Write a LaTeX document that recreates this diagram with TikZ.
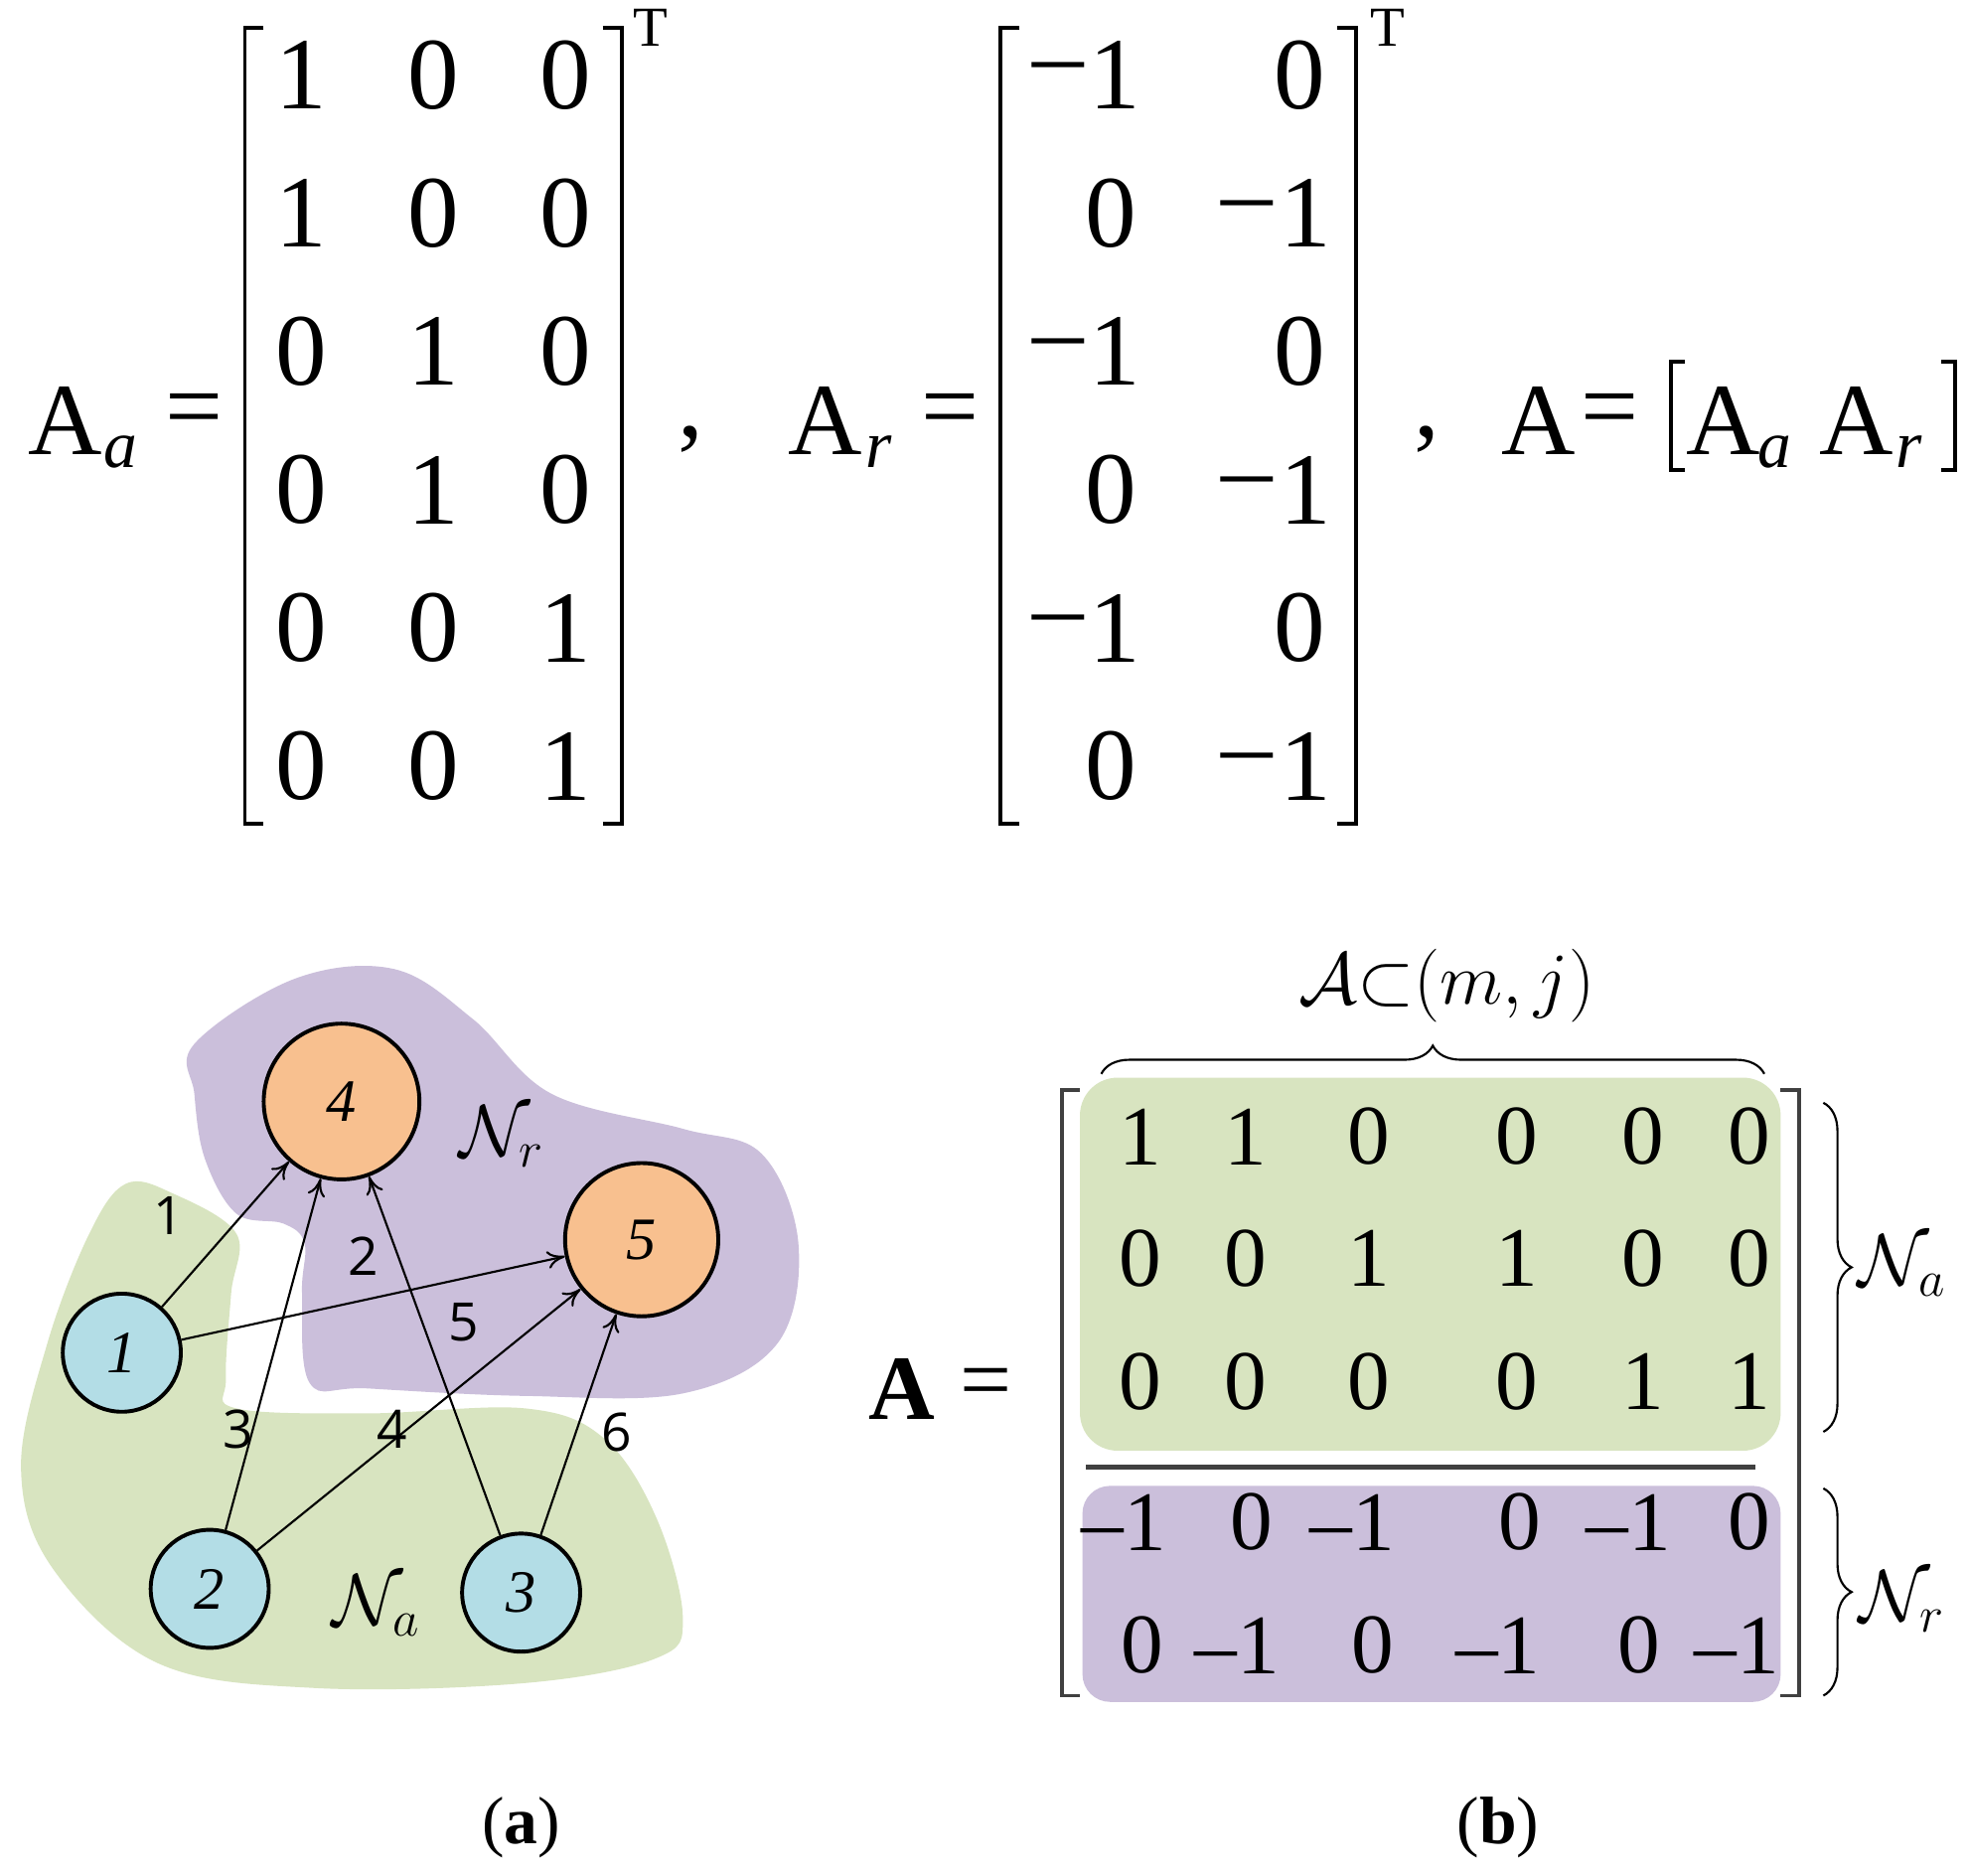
\documentclass[tikz,border=0pt]{standalone}
\usepackage{fontspec}
\setmainfont{Liberation Serif}
\newfontfamily\lblsans{Open Sans}
\usetikzlibrary{decorations.pathreplacing,arrows.meta}
\newcommand\fsz[1]{\fontsize{#1}{#1}\selectfont}
\definecolor{cOr}{HTML}{F8C08F}
\definecolor{cBl}{HTML}{B3DDE6}
\definecolor{cPu}{HTML}{CBBFDB}
\definecolor{cGr}{HTML}{D8E4C0}
\begin{document}
\begin{tikzpicture}[x=0.0125cm,y=-0.0125cm,
  big/.style={font=\fsz{29pt}, inner sep=0},
  mid/.style={font=\fsz{24pt}, inner sep=0},
  sub/.style={font=\fsz{19pt}\itshape, inner sep=0},
  brk/.style={line width=1.1pt},
  gn/.style={circle, draw, line width=1.1pt, font=\fsz{17pt}\itshape, inner sep=0},
  el/.style={font=\lblsans\fsz{15pt}, inner sep=0},
  ed/.style={line width=0.6pt, -{To[length=5pt,width=5pt]}},
  br/.style={decorate, decoration={brace, amplitude=8pt}, line width=0.6pt}]
\useasboundingbox (0,0) rectangle (1568,1493);
% ---------- top formulas ----------
\node[big] (Aa) at (52,335) {A};
\node[sub] (Aasub) at (96,360) {a};
\node[big] (eq1) at (155,332) {=};
\draw[brk] (210,22) -- (195,22) -- (195,656) -- (210,656);
\draw[brk] (480,22) -- (495,22) -- (495,656) -- (480,656);
\node[mid,font=\fsz{16pt}] (T1) at (518,22) {T};
\foreach \r/\a/\b/\c [count=\i] in {60/1/0/0,170/1/0/0,280/0/1/0,390/0/1/0,500/0/0/1,610/0/0/1}{
  \node[big] (aa\i1) at (240,\r) {\a};
  \node[big] (aa\i2) at (345,\r) {\b};
  \node[big] (aa\i3) at (450,\r) {\c};
}
\node[big] (cm1) at (550,350) {,};
\node[big] (Ar) at (657,335) {A};
\node[sub] (Arsub) at (700,360) {r};
\node[big] (eq2) at (757,332) {=};
\draw[brk] (812,22) -- (797,22) -- (797,656) -- (812,656);
\draw[brk] (1065,22) -- (1080,22) -- (1080,656) -- (1065,656);
\node[mid,font=\fsz{16pt}] (T2) at (1105,22) {T};
\foreach \r/\t [count=\i] in {60/0,280/0,500/0}{
  \node[big] (rm\i) at (843,\r) {–};
  \node[big] (rd\i) at (888,\r) {1};
  \node[big] (rz\i) at (1035,\r) {0};
}
\foreach \r/\t [count=\i] in {170/0,390/0,610/0}{
  \node[big] (sz\i) at (885,\r) {0};
  \node[big] (sm\i) at (993,\r) {–};
  \node[big] (sd\i) at (1040,\r) {1};
}
\node[big] (cm2) at (1136,350) {,};
\node[big] (A3) at (1225,335) {A};
\node[big] (eq3) at (1282,332) {=};
\draw[brk] (1342,288) -- (1331,288) -- (1331,374) -- (1342,374);
\draw[brk] (1546,288) -- (1557,288) -- (1557,374) -- (1546,374);
\node[big] (A4) at (1372,335) {A};
\node[sub] (A4s) at (1413,360) {a};
\node[big] (A5) at (1478,335) {A};
\node[sub] (A5s) at (1520,360) {r};
% ---------- (a) graph ----------
\begin{scope}[x=0.0125cm/2.39, y=-0.0125cm/2.515, yshift=-751.6*0.0125cm]
\fill[cPu] plot[smooth cycle, tension=0.6] coordinates {(370,200) (560,70) (750,50) (900,150) (1050,300) (1300,370) (1450,420) (1520,600) (1480,800) (1300,900) (1000,905) (700,890) (590,880) (575,700) (580,600) (540,560) (450,540) (390,430) (370,300)};
\fill[cGr] plot[smooth cycle, tension=0.6] coordinates {(240,480) (330,500) (450,580) (440,700) (430,870) (450,930) (700,940) (1000,930) (1150,990) (1250,1150) (1300,1350) (1250,1430) (1000,1480) (600,1490) (300,1440) (100,1250) (40,1050) (90,800) (170,580)};
\end{scope}
\node[gn, fill=cOr, minimum size=124*0.0125cm] (n4) at (272,877) {4};
\node[gn, fill=cOr, minimum size=122*0.0125cm] (n5) at (511,987) {5};
\node[gn, fill=cBl, minimum size=94*0.0125cm] (n1) at (97,1077) {1};
\node[gn, fill=cBl, minimum size=94*0.0125cm] (n2) at (167,1265) {2};
\node[gn, fill=cBl, minimum size=94*0.0125cm] (n3) at (415,1268) {3};
\draw[ed] (n1) -- (n4);
\draw[ed] (n1) -- (n5);
\draw[ed] (n2) -- (n4);
\draw[ed] (n2) -- (n5);
\draw[ed] (n3) -- (n4);
\draw[ed] (n3) -- (n5);
\node[el] (l1) at (134,968) {1};
\node[el] (l2) at (289,1000) {2};
\node[el] (l3) at (190,1138) {3};
\node[el] (l4) at (312,1138) {4};
\node[el] (l5) at (369,1053) {5};
\node[el] (l6) at (491,1140) {6};
\node[mid, font=\fsz{22pt}] (Nr) at (400,905) {$\mathcal{N}_r$};
\node[mid, font=\fsz{22pt}] (Na) at (300,1278) {$\mathcal{N}_a$};
% ---------- (b) matrix ----------
\fill[cGr, rounded corners=30*0.0125cm] (860,858) rectangle (1418,1155);
\fill[cPu, rounded corners=22*0.0125cm] (862,1183) rectangle (1418,1355);
\draw[line width=1.2pt, black!75] (865,1168) -- (1398,1168);
\draw[brk, black!75] (860,868) -- (846,868) -- (846,1350) -- (860,1350);
\draw[brk, black!75] (1418,868) -- (1433,868) -- (1433,1350) -- (1418,1350);
\node[mid, font=\fsz{26pt}\bfseries] (Ab) at (718,1106) {A};
\node[mid, font=\fsz{26pt}] (eqb) at (785,1106) {=};
\foreach \a/\b/\c/\d/\e/\f/\y [count=\i] in {1/1/0/0/0/0/905, 0/0/1/1/0/0/1002, 0/0/0/0/1/1/1100}{
  \node[mid] (b\i1) at (908,\y) {\a};
  \node[mid] (b\i2) at (992,\y) {\b};
  \node[mid] (b\i3) at (1090,\y) {\c};
  \node[mid] (b\i4) at (1208,\y) {\d};
  \node[mid] (b\i5) at (1308,\y) {\e};
  \node[mid] (b\i6) at (1393,\y) {\f};
}
\node[mid] (p11) at (895,1212) {–1};
\node[mid] (p12) at (997,1212) {0};
\node[mid] (p13) at (1077,1212) {–1};
\node[mid] (p14) at (1210,1212) {0};
\node[mid] (p15) at (1297,1212) {–1};
\node[mid] (p16) at (1393,1212) {0};
\node[mid] (p21) at (910,1310) {0};
\node[mid] (p22) at (985,1310) {–1};
\node[mid] (p23) at (1093,1310) {0};
\node[mid] (p24) at (1193,1310) {–1};
\node[mid] (p25) at (1305,1310) {0};
\node[mid] (p26) at (1383,1310) {–1};
\coordinate (tb1) at (877,855);
\coordinate (tb2) at (1405,855);
\draw[br] (tb1) -- (tb2);
\node[mid, font=\fsz{20pt}] (Asub) at (1152,785) {$\mathcal{A}{\subset}(m,j)$};
\coordinate (ra1) at (1452,878);
\coordinate (ra2) at (1452,1140);
\draw[br] (ra1) -- (ra2);
\node[mid, font=\fsz{22pt}] (Nab) at (1515,1008) {$\mathcal{N}_a$};
\coordinate (rr1) at (1452,1185);
\coordinate (rr2) at (1452,1350);
\draw[br] (rr1) -- (rr2);
\node[mid, font=\fsz{22pt}] (Nrb) at (1515,1275) {$\mathcal{N}_r$};
% ---------- captions ----------
\node[mid, font=\fsz{19pt}] (capa) at (415,1455) {(\textbf{a})};
\node[mid, font=\fsz{19pt}] (capb) at (1193,1455) {(\textbf{b})};
\end{tikzpicture}
\end{document}
